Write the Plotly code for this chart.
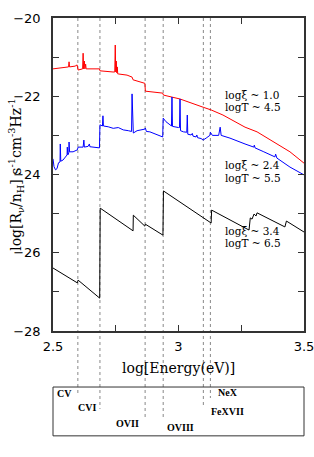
import plotly.graph_objects as go

# ---- data (log energy in eV, log emissivity) ----
red_logE = [2.500, 2.528, 2.556, 2.562, 2.564, 2.566, 2.588, 2.596, 2.600, 2.618,
            2.620, 2.622, 2.625, 2.627, 2.630, 2.632, 2.685, 2.687, 2.739, 2.746,
            2.748, 2.750, 2.752, 2.754, 2.756, 2.758, 2.760, 2.795, 2.815, 2.819,
            2.859, 2.866, 2.868, 2.937, 2.940, 3.006, 3.098, 3.130, 3.177, 3.265,
            3.313, 3.384, 3.444, 3.500]
red_logR = [-21.30, -21.28, -21.25, -21.25, -21.12, -21.25, -21.23, -21.20, -21.33, -21.30,
            -20.90, -21.30, -21.10, -21.30, -21.18, -21.30, -21.30, -21.35, -21.38, -21.38,
            -20.69, -21.38, -21.10, -21.40, -21.25, -21.43, -21.43, -21.46, -21.51, -21.58,
            -21.66, -21.67, -21.87, -21.92, -21.97, -22.07, -22.28, -22.35, -22.48, -22.79,
            -22.91, -23.19, -23.42, -23.71]

blue_logE = [2.500, 2.504, 2.510, 2.516, 2.522, 2.528, 2.529, 2.531, 2.540, 2.550,
             2.556, 2.557, 2.559, 2.563, 2.564, 2.566, 2.580, 2.590, 2.597, 2.600,
             2.620, 2.623, 2.625, 2.640, 2.645, 2.647, 2.675, 2.685, 2.687, 2.697,
             2.699, 2.701, 2.720, 2.740, 2.760, 2.780, 2.800, 2.813, 2.815, 2.817,
             2.820, 2.835, 2.860, 2.866, 2.868, 2.872, 2.886, 2.910, 2.926, 2.937,
             2.939, 2.950, 2.966, 2.972, 2.974, 2.976, 3.000, 3.004, 3.006, 3.008,
             3.020, 3.033, 3.035, 3.037, 3.050, 3.055, 3.058, 3.070, 3.073, 3.076,
             3.090, 3.098, 3.110, 3.125, 3.127, 3.135, 3.160, 3.166, 3.170, 3.205,
             3.265, 3.300, 3.302, 3.305, 3.340, 3.384, 3.387, 3.392, 3.444, 3.500]
blue_logR = [-23.60, -23.80, -23.88, -23.85, -23.70, -23.68, -23.22, -23.66, -23.63, -23.55,
             -23.50, -23.30, -23.50, -23.45, -23.17, -23.42, -23.42, -23.40, -23.37, -23.30,
             -23.30, -23.12, -23.30, -23.28, -23.22, -23.29, -23.30, -23.32, -22.73, -22.76,
             -22.50, -22.76, -22.78, -22.82, -22.80, -22.86, -22.88, -22.90, -21.94, -22.92,
             -22.94, -22.88, -22.86, -22.84, -22.81, -22.90, -22.91, -22.97, -23.02, -23.04,
             -22.56, -22.65, -22.73, -22.76, -22.02, -22.77, -22.80, -22.80, -22.07, -22.88,
             -22.91, -22.92, -22.48, -22.97, -22.99, -22.95, -23.02, -23.04, -22.99, -23.06,
             -23.08, -23.12, -23.07, -23.00, -22.92, -23.00, -23.00, -22.79, -23.00, -23.07,
             -23.22, -23.30, -23.25, -23.32, -23.42, -23.55, -23.48, -23.58, -23.81, -24.01]

black_logE = [2.500, 2.597, 2.600, 2.686, 2.688, 2.819, 2.820, 2.866, 2.868, 2.938,
              2.940, 3.130, 3.132, 3.281, 3.286, 3.293, 3.301, 3.309, 3.313, 3.424,
              3.430, 3.500]
black_logR = [-26.39, -26.77, -26.70, -27.16, -24.86, -25.44, -25.04, -25.32, -25.27, -25.55,
              -24.42, -25.24, -24.91, -25.42, -25.11, -25.14, -25.01, -25.06, -24.98, -25.34,
              -25.19, -25.47]

# ion edges: label, log energy, end of dotted line (paper y), label position
edge_names = ["CV", "CVI", "OVII", "OVIII", "FeXVII", "NeX"]
edge_logE = [2.599, 2.687, 2.867, 2.939, 3.099, 3.127]
edge_line_end = [-0.201, -0.249, -0.278, -0.281, -0.246, -0.214]
edge_label_x = [0.082, 0.181, 0.351, 0.446, 0.620, 0.648]
edge_label_y = [-0.201, -0.246, -0.294, -0.307, -0.256, -0.198]
edge_label_anchor = ["right", "right", "right", "left", "left", "left"]

curve_labels = [("log&#958; ~ 1.0", 0.754), ("logT ~ 4.5", 0.716),
                ("log&#958; ~ 2.4", 0.530), ("logT ~ 5.5", 0.489),
                ("log&#958; ~ 3.4", 0.319), ("logT ~ 6.5", 0.281)]

fig = go.Figure()
fig.add_trace(go.Scatter(x=red_logE, y=red_logR, mode="lines",
                         line=dict(color="#ff0000", width=1), showlegend=False))
fig.add_trace(go.Scatter(x=blue_logE, y=blue_logR, mode="lines",
                         line=dict(color="#0000ff", width=1), showlegend=False))
fig.add_trace(go.Scatter(x=black_logE, y=black_logR, mode="lines",
                         line=dict(color="#000000", width=1), showlegend=False))

shapes = []
for e, yend in zip(edge_logE, edge_line_end):
    shapes.append(dict(type="line", xref="x", yref="paper", x0=e, x1=e, y0=1, y1=yend,
                       line=dict(color="#888888", width=1, dash="dot"), layer="below"))
shapes.append(dict(type="rect", xref="paper", yref="paper", x0=0, x1=1, y0=-0.335, y1=-0.179,
                   line=dict(color="#333333", width=1)))

annotations = []
for name, lx, ly, anc in zip(edge_names, edge_label_x, edge_label_y, edge_label_anchor):
    annotations.append(dict(text="<b>" + name + "</b>", xref="paper", yref="paper", x=lx, y=ly,
                            xanchor=anc, yanchor="middle", showarrow=False,
                            font=dict(family="Liberation Serif", size=10, color="black")))
for txt, ly in curve_labels:
    annotations.append(dict(text=txt, xref="paper", yref="paper", x=0.677, y=ly,
                            xanchor="left", yanchor="middle", showarrow=False,
                            font=dict(family="DejaVu Serif", size=10.5, color="black")))
annotations.append(dict(text="log[R<sub>&#957;</sub>/n<sub>H</sub>] s<sup>-1</sup>cm<sup>-3</sup>Hz<sup>-1</sup>",
                        xref="paper", yref="paper", x=-0.15, y=0.5, textangle=-90,
                        xanchor="center", yanchor="middle", showarrow=False,
                        font=dict(family="DejaVu Serif", size=14, color="black")))
annotations.append(dict(text="log[Energy(eV)]", xref="paper", yref="paper", x=0.5, y=-0.118,
                        xanchor="center", yanchor="middle", showarrow=False,
                        font=dict(family="DejaVu Serif", size=14, color="black")))

axis_common = dict(showgrid=False, zeroline=False, showline=True, linecolor="#333333",
                   linewidth=1.5, mirror="allticks", ticks="inside", ticklen=6,
                   tickcolor="#333333", tickwidth=1, ticklabeloverflow="allow",
                   tickfont=dict(family="DejaVu Sans", size=13, color="black"))

fig.update_layout(
    width=314, height=457,
    margin=dict(l=53, r=10, t=18, b=126, autoexpand=False),
    paper_bgcolor="white", plot_bgcolor="white",
    shapes=shapes, annotations=annotations,
    xaxis=dict(range=[2.5, 3.5], tickvals=[2.5, 3.0, 3.5], ticktext=["2.5", "3", "3.5"],
               minor=dict(dtick=0.25, ticks="inside", ticklen=6, tickcolor="#333333"),
               ticklabelstandoff=3, **axis_common),
    yaxis=dict(range=[-28, -20], tickvals=[-28, -26, -24, -22, -20],
               minor=dict(dtick=1, ticks="inside", ticklen=6, tickcolor="#333333"),
               ticklabelstandoff=8, **axis_common),
)

fig.write_html("out.html", config={"displayModeBar": False},
               post_script="document.body.style.margin='0';")
